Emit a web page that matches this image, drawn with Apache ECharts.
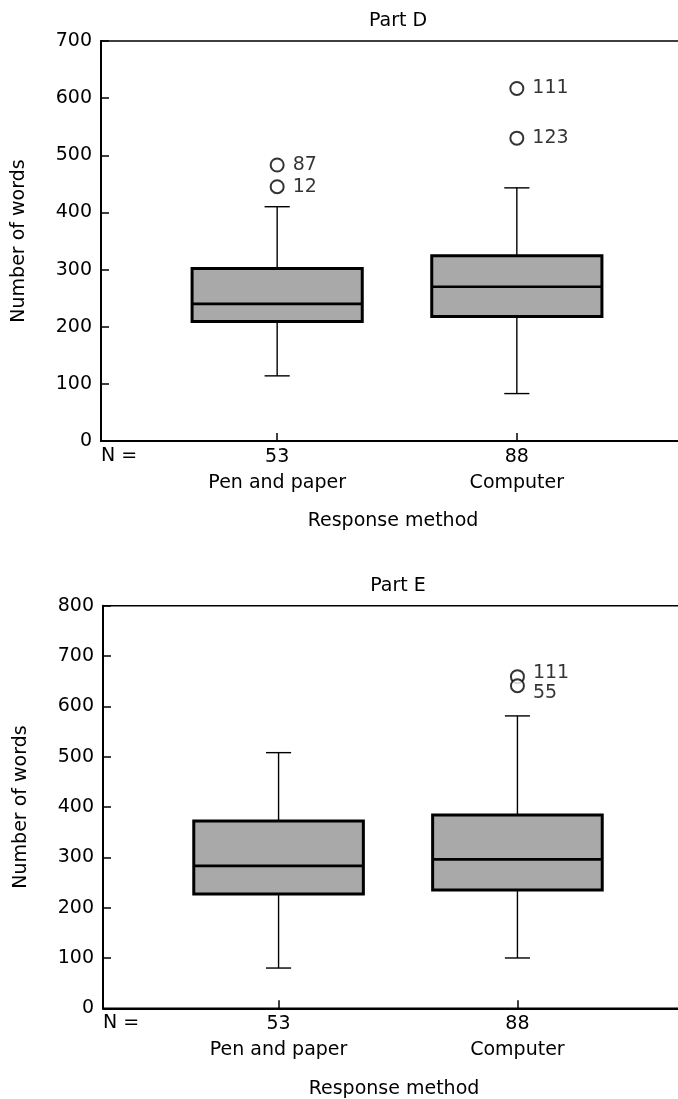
<!DOCTYPE html>
<html>
<head>
<meta charset="utf-8">
<script src="https://cdn.jsdelivr.net/npm/echarts@6/dist/echarts.min.js"></script>
<style>
html,body{margin:0;padding:0;background:#fff;}
#main{width:678px;height:1099px;}
</style>
</head>
<body>
<div id="main"></div>
<script>
// ---- data ----
const categories = ['Pen and paper', 'Computer'];
const groupN = [53, 88];
const yTicksD = [0, 100, 200, 300, 400, 500, 600, 700];
const yTicksE = [0, 100, 200, 300, 400, 500, 600, 700, 800];

// [min, Q1, median, Q3, max] per category
const partD_box = [
  [114, 209, 240, 302, 410],
  [83, 218, 270, 324, 443]
];
const partD_outlierCat = [1, 1, 2, 2];
const partD_outlierVal = [483, 445, 617, 530];
const partD_outlierId = ['87', '12', '111', '123'];

const partE_box = [
  [80, 227, 283, 372, 508],
  [100, 235, 296, 384, 581]
];
const partE_outlierCat = [2, 2];
const partE_outlierVal = [659, 641];
const partE_outlierId = ['111', '55'];

// ---- styling ----
const FONT = 'DejaVu Sans';
const FS = 19;
const XMIN = 0.265, XMAX = 2.735;
const BOX_W = 0.71, CAP_W = 0.105;
const partE_labelOffsets = [[0, -4], [0, 7]];

function boxData(arr) {
  return arr.map((b, i) => [i + 1].concat(b));
}

function renderBox(params, api) {
  const x = api.value(0);
  const pMin = api.coord([x, api.value(1)]);
  const pQ1 = api.coord([x, api.value(2)]);
  const pMed = api.coord([x, api.value(3)]);
  const pQ3 = api.coord([x, api.value(4)]);
  const pMax = api.coord([x, api.value(5)]);
  const half = api.size([BOX_W, 0])[0] / 2;
  const capHalf = api.size([CAP_W, 0])[0] / 2;
  const cx = pMin[0];
  const thin = {stroke: '#000', lineWidth: 1.4, fill: null};
  return {
    type: 'group',
    children: [
      {type: 'line', shape: {x1: cx, y1: pMin[1], x2: cx, y2: pQ1[1]}, style: thin},
      {type: 'line', shape: {x1: cx, y1: pQ3[1], x2: cx, y2: pMax[1]}, style: thin},
      {type: 'line', shape: {x1: cx - capHalf, y1: pMin[1], x2: cx + capHalf, y2: pMin[1]}, style: thin},
      {type: 'line', shape: {x1: cx - capHalf, y1: pMax[1], x2: cx + capHalf, y2: pMax[1]}, style: thin},
      {type: 'rect', shape: {x: cx - half, y: pQ3[1], width: half * 2, height: pQ1[1] - pQ3[1]},
        style: {fill: '#a9a9a9', stroke: '#000', lineWidth: 3}},
      {type: 'line', shape: {x1: cx - half, y1: pMed[1], x2: cx + half, y2: pMed[1]},
        style: {stroke: '#000', lineWidth: 2.6}}
    ]
  };
}

function outlierData(cats, vals, ids, offsets) {
  return vals.map((v, i) => {
    const item = {value: [cats[i], v], name: ids[i]};
    if (offsets) item.label = {offset: offsets[i]};
    return item;
  });
}

const txt = {color: '#000', fontFamily: FONT, fontSize: FS};

function makeX(gi) {
  return {
    type: 'value', gridIndex: gi, min: XMIN, max: XMAX,
    splitLine: {show: false},
    axisLine: {show: true, lineStyle: {color: '#000', width: 2}},
    axisTick: {show: true, inside: true, length: 8, customValues: [1, 2], lineStyle: {color: '#000', width: 1.5}},
    axisLabel: Object.assign({
      customValues: [1, 2], margin: 3, lineHeight: 26,
      formatter: v => groupN[Math.round(v) - 1] + '\n' + categories[Math.round(v) - 1]
    }, txt),
    name: 'Response method', nameLocation: 'middle', nameGap: 71,
    nameTextStyle: Object.assign({padding: [0, 8, 0, 0]}, txt)
  };
}
function makeY(gi, ticks) {
  return {
    type: 'value', gridIndex: gi, min: ticks[0], max: ticks[ticks.length - 1], interval: 100,
    splitLine: {show: false},
    axisLine: {show: true, lineStyle: {color: '#000', width: 2}},
    axisTick: {show: true, inside: true, length: 8, lineStyle: {color: '#000', width: 1.5}},
    axisLabel: Object.assign({margin: 9}, txt),
    name: 'Number of words', nameLocation: 'middle', nameGap: 72,
    nameTextStyle: txt
  };
}

const scatterBase = {
  type: 'scatter', symbol: 'emptyCircle', symbolSize: 13,
  itemStyle: {color: '#000', borderColor: '#000', borderWidth: 1.3},
  label: Object.assign({show: true, position: 'right', distance: 8, formatter: p => p.name}, txt),
  emphasis: {disabled: true}
};

const chart = echarts.init(document.getElementById('main'), null, {renderer: 'canvas'});
chart.setOption({
  backgroundColor: '#fff',
  animation: false,
  title: [
    {text: 'Part D', left: 393, top: 7, textAlign: 'center', textStyle: Object.assign({fontWeight: 'normal'}, txt)},
    {text: 'Part E', left: 393, top: 572, textAlign: 'center', textStyle: Object.assign({fontWeight: 'normal'}, txt)}
  ],
  grid: [
    {left: 101, width: 592, top: 41, height: 400, outerBoundsMode: 'none', containLabel: false, show: true, borderColor: '#000', borderWidth: 1.5, backgroundColor: 'transparent'},
    {left: 103, width: 590, top: 605.7, height: 402.6, outerBoundsMode: 'none', containLabel: false, show: true, borderColor: '#000', borderWidth: 1.5, backgroundColor: 'transparent'}
  ],
  xAxis: [makeX(0), makeX(1)],
  yAxis: [makeY(0, yTicksD), makeY(1, yTicksE)],
  graphic: [
    {type: 'text', left: 101, top: 447, style: {text: 'N =', font: FS + 'px "' + FONT + '"', fill: '#000'}},
    {type: 'text', left: 103, top: 1014, style: {text: 'N =', font: FS + 'px "' + FONT + '"', fill: '#000'}}
  ],
  series: [
    {type: 'custom', xAxisIndex: 0, yAxisIndex: 0, renderItem: renderBox, encode: {x: 0, y: [1, 2, 3, 4, 5]}, data: boxData(partD_box), silent: true},
    {type: 'custom', xAxisIndex: 1, yAxisIndex: 1, renderItem: renderBox, encode: {x: 0, y: [1, 2, 3, 4, 5]}, data: boxData(partE_box), silent: true},
    Object.assign({xAxisIndex: 0, yAxisIndex: 0, data: outlierData(partD_outlierCat, partD_outlierVal, partD_outlierId)}, scatterBase),
    Object.assign({xAxisIndex: 1, yAxisIndex: 1, data: outlierData(partE_outlierCat, partE_outlierVal, partE_outlierId, partE_labelOffsets)}, scatterBase)
  ]
});
</script>
</body>
</html>
